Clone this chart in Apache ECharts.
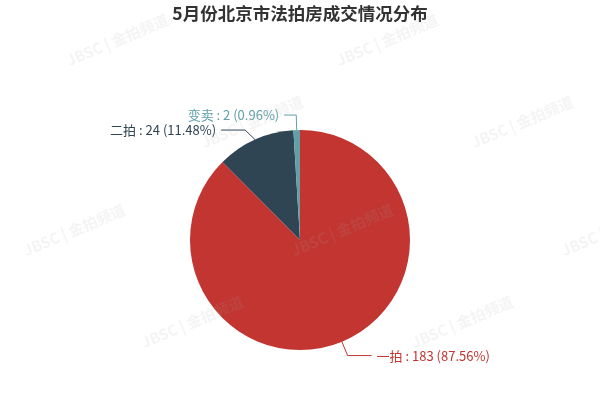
<!DOCTYPE html>
<html><head><meta charset="utf-8">
<script src="https://cdn.jsdelivr.net/npm/echarts@6/dist/echarts.min.js"></script>
<style>html,body{margin:0;padding:0;background:#fff}#c{width:600px;height:400px}</style>
</head><body><div id="c"></div>
<script>
const titleText = '5月份北京市法拍房成交情况分布';
const categories = ['一拍', '二拍', '变卖'];
const values = [183, 24, 2];
const colors = ['#c23531', '#2f4554', '#61a0a8'];

const chart = echarts.init(document.getElementById('c'));
const wm = [[70,68],[340,68],[205,150],[475,150],[27,258],[295,258],[565,258],[145,350],[415,350]];
const lineLen2 = [24, 24, 12];
chart.setOption({
  color: colors,
  textStyle: {fontFamily: '"Noto Sans CJK SC", sans-serif'},
  title: {text: titleText, left: 'center', top: 0,
    textStyle: {fontSize: 17.5, fontWeight: 'bold', color: '#333', fontFamily: '"Noto Sans CJK SC", sans-serif'}},
  graphic: wm.map(p => ({type: 'text', x: p[0], y: p[1], rotation: 0.4, z: 100,
    style: {text: 'JBSC | 金拍频道', fill: 'rgba(170,170,170,0.13)', font: 'bold 15px "Noto Sans CJK SC"', verticalAlign: 'bottom'}})),
  series: [{
    type: 'pie', radius: 110, center: [300, 240],
    label: {formatter: '{b} : {c} ({d}%)', fontSize: 13},
    labelLine: {length: 15, length2: 12},
    data: categories.map((c, i) => ({name: c, value: values[i], label: {color: colors[i]},
      labelLine: {length2: lineLen2[i]}}))
  }]
});
</script></body></html>
